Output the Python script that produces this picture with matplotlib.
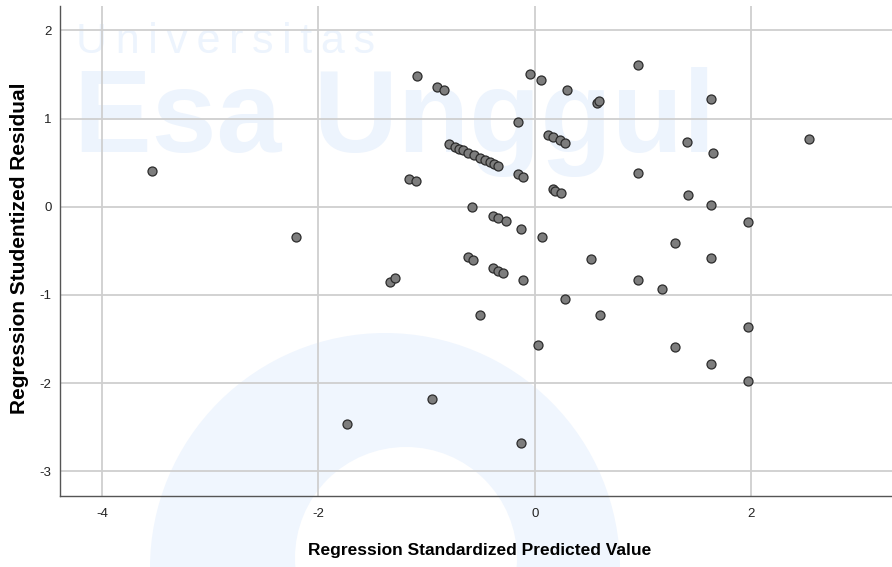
import matplotlib
matplotlib.use("Agg")
import matplotlib.pyplot as plt
from matplotlib.patches import Circle

# Regression Standardized Predicted Value (x) and Regression Studentized Residual (y)
pred = [
    -3.535, -2.205, -1.337, -1.296, -1.740, -0.954, -1.164, -1.102, -1.090, -0.908, -0.843,
    -0.157, -0.046, 0.055,
    -0.794, -0.739, -0.702, -0.665, -0.619, -0.564, -0.508, -0.462, -0.416, -0.379, -0.342,
    -0.154, -0.108,
    0.298, 0.576, 0.594, 0.949,
    0.117, 0.164, 0.231, 0.280,
    0.949, 0.164, 0.185, 0.237,
    1.629, 1.404, 1.641, 2.534, 1.416, 1.629, 1.971, 1.290, 1.629, 1.176, 1.971, 1.290,
    0.065, 0.520, 0.949, 0.280, 0.600,
    0.031, 1.629, 1.971, -0.129,
    -0.582, -0.385, -0.339, -0.271, -0.132,
    -0.616, -0.570, -0.385, -0.339, -0.293, -0.111, -0.505,
]
resid = [
    0.408, -0.340, -0.850, -0.810, -2.467, -2.180, 0.310, 0.288, 1.478, 1.357, 1.323,
    0.964, 1.505, 1.436,
    0.710, 0.676, 0.659, 0.642, 0.613, 0.585, 0.557, 0.528, 0.505, 0.482, 0.463,
    0.371, 0.340,
    1.323, 1.172, 1.202, 1.610,
    0.813, 0.787, 0.756, 0.726,
    0.386, 0.197, 0.181, 0.159,
    1.218, 0.737, 0.612, 0.764, 0.133, 0.016, -0.170, -0.408, -0.585, -0.937, -1.367, -1.587,
    -0.347, -0.597, -0.831, -1.043, -1.228,
    -1.568, -1.783, -1.973, -2.683,
    0.000, -0.102, -0.125, -0.166, -0.249,
    -0.574, -0.604, -0.698, -0.726, -0.755, -0.835, -1.228,
]
xticks = [-4, -2, 0, 2]
yticks = [-3, -2, -1, 0, 1, 2]
xlabel = "Regression Standardized Predicted Value"
ylabel = "Regression Studentized Residual"

plt.rcParams['font.family'] = ['Liberation Sans', 'DejaVu Sans']

W, H = 892, 567
fig = plt.figure(figsize=(W / 100, H / 100), dpi=100)
fig.patch.set_facecolor('white')

# faint watermark (logo + text) behind the plot
wm = '#edf4fd'
fig.text(76 / W, 1 - 53 / H, "U\u2009n\u2009i\u2009v\u2009e\u2009r\u2009s\u2009i\u2009t\u2009a\u2009s",
         fontsize=31, color=wm, ha='left', va='baseline', zorder=-5)
fig.text(74 / W, 1 - 152 / H, "Esa Unggul", fontsize=84, color=wm,
         fontweight='bold', ha='left', va='baseline', zorder=-5)


def px_circle(cx, cy, r, color, z):
    # circle given in pixel units, drawn in figure pixel space
    c = Circle((cx, H - cy), r, transform=None, facecolor=color,
               edgecolor='none', zorder=z)
    fig.patches.append(c)


px_circle(385, 568, 235, '#f0f6fe', -4)
px_circle(406, 558, 111, 'white', -3)

ax = fig.add_axes([60 / W, 1 - 495.7 / H, (W - 60) / W, (495.7 - 6) / H])
ax.set_facecolor('none')
ax.set_zorder(1)

ax.set_xlim(-4.388, 3.298)
ax.set_ylim(-3.277, 2.276)
ax.set_xticks(xticks)
ax.set_yticks(yticks)
ax.set_xticklabels([str(v) for v in xticks])
ax.set_yticklabels([str(v) for v in yticks])
ax.tick_params(length=0, labelsize=9.5, colors='#222222')
ax.tick_params(axis='x', pad=9)
ax.tick_params(axis='y', pad=6)

ax.grid(True, color='#cfcfcf', linewidth=1.3)
ax.set_axisbelow(True)
for s in ['top', 'right']:
    ax.spines[s].set_visible(False)
for s in ['left', 'bottom']:
    ax.spines[s].set_color('#555555')
    ax.spines[s].set_linewidth(1.0)

ax.scatter(pred, resid, s=42, facecolor='#7d7d7d', edgecolor='#2b2b2b',
           linewidth=0.9, zorder=3)

ax.set_xlabel(xlabel, fontsize=12.5, fontweight='bold', va='center')
ax.set_ylabel(ylabel, fontsize=15, fontweight='bold', va='center')
ax.xaxis.set_label_coords((480 - 60) / 832, (495.7 - 550) / 489.7)
ax.yaxis.set_label_coords((20 - 60) / 832, (495.7 - 248) / 489.7)

fig.savefig('out.png', dpi=100)
